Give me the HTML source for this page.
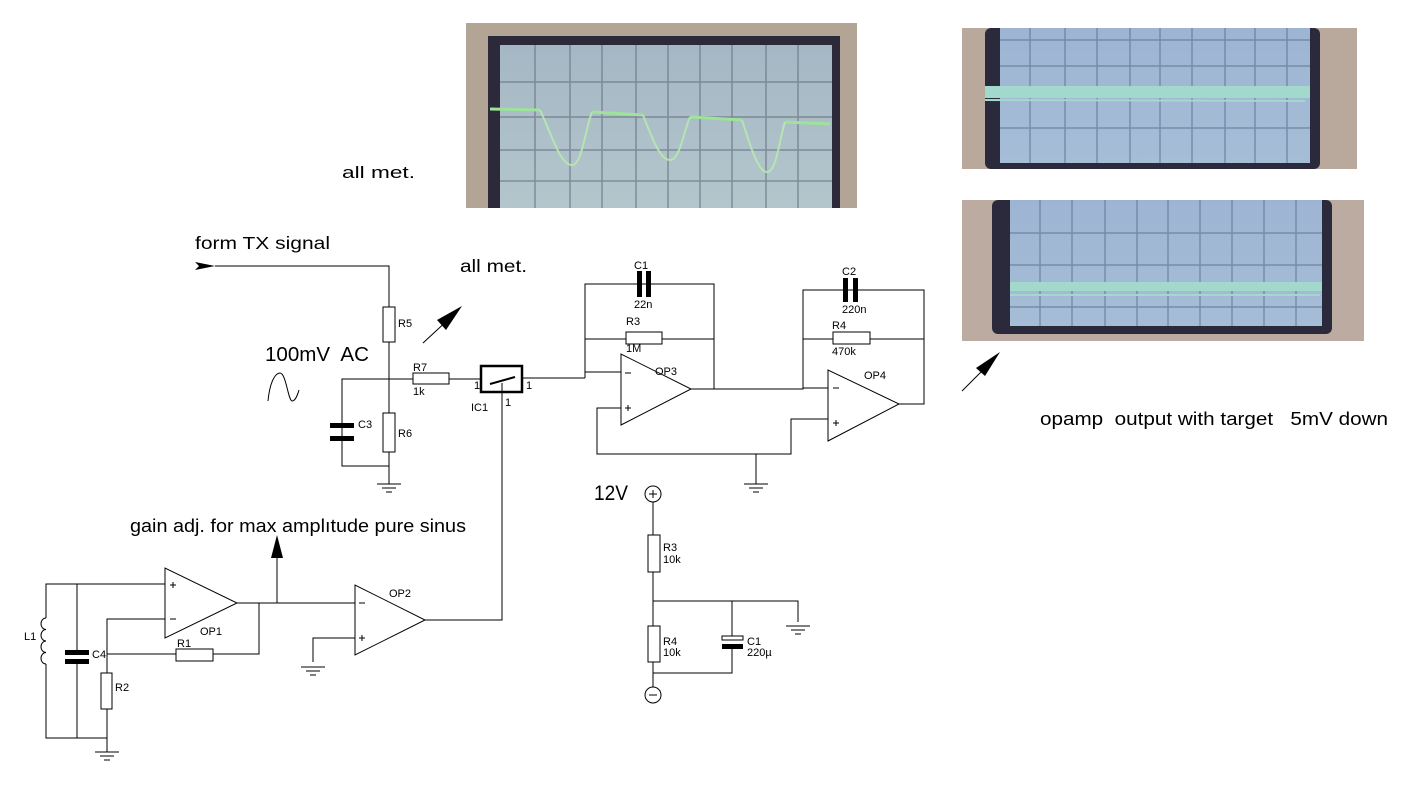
<!DOCTYPE html>
<html><head><meta charset="utf-8"><style>
html,body{margin:0;padding:0;background:#fff;}
svg{display:block;}
text{font-family:"Liberation Sans",Arial,sans-serif;fill:#000;}
</style></head><body>
<svg width="1415" height="785" viewBox="0 0 1415 785" xmlns="http://www.w3.org/2000/svg">
<defs>
<linearGradient id="scr" x1="0" y1="0" x2="0" y2="1">
<stop offset="0" stop-color="#a4b7c4"/><stop offset="1" stop-color="#b4c6cc"/></linearGradient>
<linearGradient id="scr2" x1="0" y1="0" x2="0" y2="1">
<stop offset="0" stop-color="#9db5d3"/><stop offset="1" stop-color="#a6bdd6"/></linearGradient>
</defs>

<!-- Photo 1 -->
<rect x="466" y="23" width="391" height="185" fill="#b3a596"/>
<rect x="488" y="36" width="352" height="172" fill="#2c2a3a"/>
<rect x="500" y="45" width="332" height="163" fill="url(#scr)"/>
<g stroke="#6a7585" stroke-width="1.5" opacity="0.7">
<line x1="535" y1="45" x2="535" y2="208"/><line x1="570" y1="45" x2="570" y2="208"/><line x1="602" y1="45" x2="602" y2="208"/><line x1="636" y1="45" x2="636" y2="208"/><line x1="668" y1="45" x2="668" y2="208"/><line x1="700" y1="45" x2="700" y2="208"/><line x1="732" y1="45" x2="732" y2="208"/><line x1="766" y1="45" x2="766" y2="208"/><line x1="798" y1="45" x2="798" y2="208"/>
<line x1="500" y1="82" x2="832" y2="82"/><line x1="500" y1="117" x2="832" y2="117"/><line x1="500" y1="150" x2="832" y2="150"/><line x1="500" y1="181" x2="832" y2="181"/>
</g>
<g fill="none" stroke="#9ee39a" stroke-width="3">
<line x1="490" y1="109" x2="540" y2="110"/>
<line x1="592" y1="112" x2="643" y2="115"/>
<line x1="690" y1="117" x2="742" y2="120"/>
<line x1="785" y1="122" x2="830" y2="124"/>
</g>
<g fill="none" stroke="#b8e8b0" stroke-width="2" opacity="0.9">
<path d="M540,110 C552,135 560,165 572,165 C582,165 585,130 592,112"/>
<path d="M643,115 C652,138 660,160 670,160 C680,160 684,130 690,117"/>
<path d="M742,120 C750,145 758,172 767,172 C777,172 780,135 785,122"/>
</g>

<!-- Photo 2 -->
<rect x="962" y="28" width="395" height="141" fill="#b9a99c"/>
<rect x="985" y="28" width="335" height="141" fill="#2a2a3c" rx="6"/>
<rect x="1000" y="28" width="310" height="135" fill="url(#scr2)"/>
<g stroke="#5b6f8f" stroke-width="1.5" opacity="0.6">
<line x1="1030" y1="28" x2="1030" y2="163"/><line x1="1065" y1="28" x2="1065" y2="163"/><line x1="1097" y1="28" x2="1097" y2="163"/><line x1="1130" y1="28" x2="1130" y2="163"/><line x1="1160" y1="28" x2="1160" y2="163"/><line x1="1192" y1="28" x2="1192" y2="163"/><line x1="1225" y1="28" x2="1225" y2="163"/><line x1="1255" y1="28" x2="1255" y2="163"/><line x1="1287" y1="28" x2="1287" y2="163"/>
<line x1="1000" y1="40" x2="1310" y2="40"/><line x1="1000" y1="66" x2="1310" y2="66"/><line x1="1000" y1="128" x2="1310" y2="128"/>
</g>
<rect x="985" y="86" width="325" height="12" fill="#a3d9cc"/>
<line x1="985" y1="100" x2="1305" y2="101" stroke="#a3d9cc" stroke-width="2"/>

<!-- Photo 3 -->
<rect x="962" y="200" width="402" height="141" fill="#bcaba0"/>
<rect x="992" y="200" width="340" height="134" fill="#2a2a3c" rx="6"/>
<rect x="1010" y="200" width="312" height="126" fill="url(#scr2)"/>
<g stroke="#5b6f8f" stroke-width="1.5" opacity="0.6">
<line x1="1040" y1="200" x2="1040" y2="326"/><line x1="1072" y1="200" x2="1072" y2="326"/><line x1="1105" y1="200" x2="1105" y2="326"/><line x1="1137" y1="200" x2="1137" y2="326"/><line x1="1168" y1="200" x2="1168" y2="326"/><line x1="1200" y1="200" x2="1200" y2="326"/><line x1="1232" y1="200" x2="1232" y2="326"/><line x1="1264" y1="200" x2="1264" y2="326"/><line x1="1296" y1="200" x2="1296" y2="326"/>
<line x1="1010" y1="233" x2="1322" y2="233"/><line x1="1010" y1="265" x2="1322" y2="265"/><line x1="1010" y1="307" x2="1322" y2="307"/>
</g>
<rect x="1010" y="282" width="312" height="9" fill="#a3d9cc"/>
<line x1="1010" y1="295" x2="1320" y2="295" stroke="#a3d9cc" stroke-width="2"/>

<!-- Text labels -->
<text x="342" y="178" font-size="17" textLength="73" lengthAdjust="spacingAndGlyphs">all met.</text>
<text x="195" y="249" font-size="17.5" textLength="135" lengthAdjust="spacingAndGlyphs">form TX signal</text>
<text x="460" y="272" font-size="17.5" textLength="67" lengthAdjust="spacingAndGlyphs">all met.</text>
<text x="265" y="361" font-size="20" xml:space="preserve" textLength="104" lengthAdjust="spacingAndGlyphs">100mV  AC</text>
<text x="130" y="532" font-size="18" textLength="336" lengthAdjust="spacingAndGlyphs">gain adj. for max amplıtude pure sinus</text>
<text x="1040" y="425" font-size="18" xml:space="preserve" textLength="348" lengthAdjust="spacingAndGlyphs">opamp  output with target   5mV down</text>
<text x="594" y="500" font-size="21" textLength="34" lengthAdjust="spacingAndGlyphs">12V</text>

<g stroke="#000" stroke-width="1" fill="none">
<polyline points="215,266 389,266 389,307"/>
<rect x="383" y="307" width="12" height="35" fill="#fff"/>
<line x1="389" y1="342" x2="389" y2="413"/>
<rect x="383" y="413" width="12" height="39" fill="#fff"/>
<polyline points="389,452 389,466 342,466 342,379 413,379"/>
<line x1="389" y1="466" x2="389" y2="484"/>
<rect x="413" y="373" width="36" height="11" fill="#fff"/>
<line x1="449" y1="379" x2="481" y2="379"/>
<path d="M268,401 C270,380 276,373 280,373 C286,373 288,400 292,401 C296,401 298,393 299,390"/>
<line x1="423" y1="343" x2="450" y2="318"/>
<line x1="962" y1="391" x2="988" y2="365"/>
<rect x="481" y="366" width="41" height="26" stroke-width="2.5"/>
<line x1="490" y1="384" x2="515" y2="377" stroke-width="2"/>
<polyline points="522,378 585,378"/>
<polyline points="502,383 502,620 425,620"/>
<polyline points="585,378 585,284 714,284 714,389"/>
<line x1="585" y1="339" x2="626" y2="339"/>
<line x1="661" y1="339" x2="714" y2="339"/>
<rect x="626" y="332" width="36" height="12" fill="#fff"/>
<line x1="585" y1="372" x2="621" y2="372"/>
<polygon points="621,354 621,425 691,389" fill="#fff"/>
<polyline points="621,408 597,408 597,454 791,454 791,419 828,419"/>
<polyline points="691,389 803,389 803,388 828,388"/>
<polyline points="756,454 756,484"/>
<polyline points="803,388 803,290 924,290 924,404 899,404"/>
<line x1="803" y1="339" x2="833" y2="339"/>
<line x1="870" y1="339" x2="924" y2="339"/>
<rect x="833" y="332" width="37" height="12" fill="#fff"/>
<polygon points="828,370 828,441 899,404" fill="#fff"/>
<polygon points="165,568 165,638 237,603" fill="#fff"/>
<polyline points="165,584 46,584 46,618"/>
<polyline points="46,664 46,738 107,738"/>
<line x1="77" y1="584" x2="77" y2="651"/><line x1="77" y1="660" x2="77" y2="738"/>
<polyline points="165,619 107,619 107,673"/>
<line x1="107" y1="709" x2="107" y2="752"/>
<rect x="101" y="673" width="11" height="36" fill="#fff"/>
<polyline points="107,654 176,654"/>
<rect x="176" y="649" width="37" height="12" fill="#fff"/>
<polyline points="213,654 259,654 259,603"/>
<line x1="237" y1="603" x2="355" y2="603"/>
<line x1="277" y1="603" x2="277" y2="555"/>
<polygon points="355,585 355,655 425,620" fill="#fff"/>
<polyline points="355,638 313,638 313,662"/>
<circle cx="653" cy="494" r="8"/>
<line x1="653" y1="502" x2="653" y2="535"/>
<rect x="648" y="535" width="12" height="37" fill="#fff"/>
<line x1="653" y1="572" x2="653" y2="626"/>
<rect x="648" y="626" width="12" height="36" fill="#fff"/>
<polyline points="653,662 653,673 732,673 732,646"/>
<line x1="653" y1="687" x2="653" y2="673"/>
<circle cx="653" cy="695" r="8"/>
<polyline points="653,601 798,601 798,622"/>
<line x1="732" y1="601" x2="732" y2="637"/>
<rect x="722" y="636" width="21" height="4" fill="#fff"/>
<path d="M46,618 a5,5.75 0 0 0 0,11.5 a5,5.75 0 0 0 0,11.5 a5,5.75 0 0 0 0,11.5 a5,5.75 0 0 0 0,11.5"/>
</g>

<g stroke="#000" stroke-width="1">
<line x1="649" y1="494" x2="657" y2="494"/><line x1="653" y1="490" x2="653" y2="498"/>
<line x1="649" y1="695" x2="657" y2="695"/>
<line x1="625" y1="373" x2="631" y2="373"/><line x1="625" y1="408" x2="631" y2="408"/><line x1="628" y1="405" x2="628" y2="411"/>
<line x1="833" y1="388" x2="839" y2="388"/><line x1="833" y1="423" x2="839" y2="423"/><line x1="836" y1="420" x2="836" y2="426"/>
<line x1="170" y1="585" x2="176" y2="585"/><line x1="173" y1="582" x2="173" y2="588"/><line x1="170" y1="619" x2="176" y2="619"/>
<line x1="359" y1="603" x2="365" y2="603"/><line x1="359" y1="638" x2="365" y2="638"/><line x1="362" y1="635" x2="362" y2="641"/>
</g>
<g stroke="#000" stroke-width="1">
<line x1="377" y1="484" x2="401" y2="484"/><line x1="382" y1="488" x2="396" y2="488"/><line x1="386" y1="492" x2="392" y2="492"/>
<line x1="744" y1="484" x2="768" y2="484"/><line x1="749" y1="488" x2="763" y2="488"/><line x1="753" y1="492" x2="759" y2="492"/>
<line x1="95" y1="752" x2="119" y2="752"/><line x1="100" y1="756" x2="114" y2="756"/><line x1="104" y1="760" x2="110" y2="760"/>
<line x1="301" y1="667" x2="325" y2="667"/><line x1="306" y1="671" x2="320" y2="671"/><line x1="310" y1="675" x2="316" y2="675"/>
<line x1="786" y1="626" x2="810" y2="626"/><line x1="791" y1="630" x2="805" y2="630"/><line x1="795" y1="634" x2="801" y2="634"/>
</g>
<rect x="330" y="423" width="24" height="5" fill="#000"/><rect x="330" y="436" width="24" height="5" fill="#000"/>
<rect x="637" y="271" width="5" height="26" fill="#000"/><rect x="646" y="271" width="5" height="26" fill="#000"/>
<rect x="843" y="278" width="5" height="24" fill="#000"/><rect x="853" y="278" width="5" height="24" fill="#000"/>
<rect x="65" y="650" width="24" height="5" fill="#000"/><rect x="65" y="659" width="24" height="5" fill="#000"/>
<rect x="722" y="644" width="21" height="5" fill="#000"/>
<polygon points="195,262 215,266 195,270 199,266" fill="#000"/>
<polygon points="462,306 446,330 437,320" fill="#000"/>
<polygon points="1000,352 985,376 976,368" fill="#000"/>
<polygon points="277,535 271,558 283,558" fill="#000"/>

<g font-size="11">
<text x="398" y="327">R5</text>
<text x="398" y="437">R6</text>
<text x="358" y="428">C3</text>
<text x="413" y="371">R7</text>
<text x="413" y="395">1k</text>
<text x="474" y="389">1</text>
<text x="526" y="389">1</text>
<text x="471" y="411">IC1</text>
<text x="505" y="406">1</text>
<text x="634" y="269">C1</text>
<text x="634" y="308">22n</text>
<text x="626" y="325">R3</text>
<text x="626" y="352">1M</text>
<text x="655" y="375">OP3</text>
<text x="842" y="275">C2</text>
<text x="842" y="313">220n</text>
<text x="832" y="329">R4</text>
<text x="832" y="355">470k</text>
<text x="864" y="379">OP4</text>
<text x="200" y="635">OP1</text>
<text x="177" y="647">R1</text>
<text x="92" y="658">C4</text>
<text x="115" y="691">R2</text>
<text x="24" y="640">L1</text>
<text x="389" y="597">OP2</text>
<text x="663" y="551">R3</text>
<text x="663" y="563">10k</text>
<text x="663" y="645">R4</text>
<text x="663" y="656">10k</text>
<text x="747" y="645">C1</text>
<text x="747" y="656">220µ</text>
</g>
</svg>
</body></html>
